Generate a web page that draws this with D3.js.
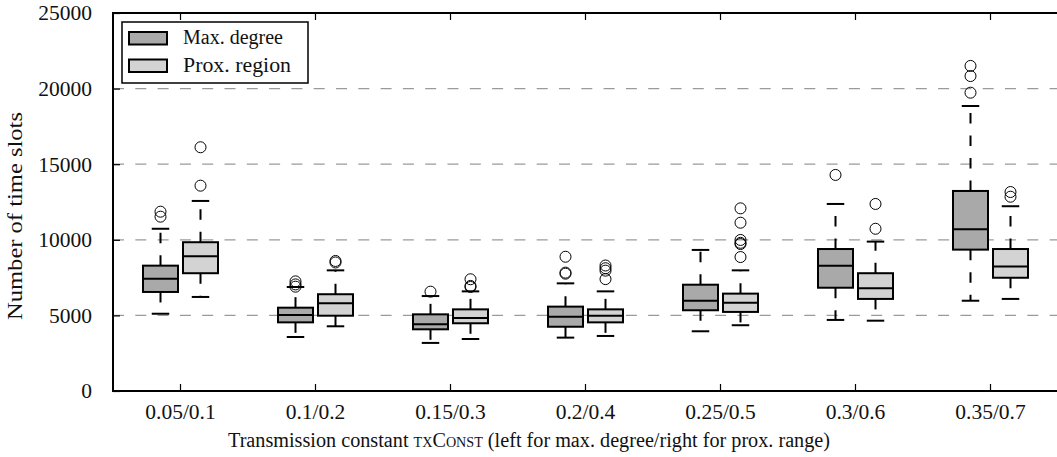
<!DOCTYPE html>
<html>
<head>
<meta charset="utf-8">
<script src="https://cdn.jsdelivr.net/npm/d3@7"></script>
<style>
  body { margin: 0; background: #fff; }
  text { font-family: "Liberation Serif", "DejaVu Serif", serif; fill: #111; }
</style>
</head>
<body>
<div id="chart"></div>
<script>
// category labels on the x axis
var categories = ["0.05/0.1", "0.1/0.2", "0.15/0.3", "0.2/0.4", "0.25/0.5", "0.3/0.6", "0.35/0.7"];
var yTicks = [0, 5000, 10000, 15000, 20000, 25000];
var gridValues = [5000, 10000, 15000, 20000];

// box stats per category: [whisker low, q1, median, q3, whisker high]
var maxDegreeStats = [
  [5110, 6550, 7430, 8290, 10730],
  [3570, 4540, 5030, 5510, 6880],
  [3180, 4080, 4410, 5070, 6280],
  [3530, 4250, 4910, 5580, 7120],
  [3950, 5340, 5970, 7030, 9330],
  [4700, 6830, 8290, 9390, 12370],
  [5970, 9350, 10700, 13230, 18850]
];
var maxDegreeOutliers = [
  [11860, 11530],
  [7250, 7050, 6900],
  [6570],
  [8880, 7830, 7760],
  [],
  [14290],
  [21500, 20830, 19730]
];
var proxRegionStats = [
  [6220, 7790, 8910, 9840, 12570],
  [4280, 4980, 5800, 6400, 7980],
  [3440, 4480, 4830, 5400, 6590],
  [3640, 4540, 4980, 5400, 6590],
  [4350, 5230, 5840, 6440, 7980],
  [4650, 6090, 6790, 7790, 9880],
  [6090, 7490, 8240, 9390, 12220]
];
var proxRegionOutliers = [
  [16120, 13580],
  [8600, 8500],
  [7390, 6950, 6880],
  [8300, 8120, 7960, 7400],
  [12080, 11130, 9990, 9800, 9720, 8860],
  [12370, 10730],
  [13160, 12850]
];

var W = 1057, H = 457;
var margin = {left: 113, right: 1058, top: 13, bottom: 391};
var boxW = 35, offset = 20;

var svg = d3.select("#chart").append("svg")
  .attr("width", W)
  .attr("height", H);

var x = d3.scaleBand().domain(categories).range([margin.left, margin.right]).padding(0);
var y = d3.scaleLinear().domain([0, 25000]).range([margin.bottom, margin.top]);
function cx(c) { return x(c) + x.bandwidth() / 2; }

// grid lines
svg.append("g").selectAll("line").data(gridValues).enter().append("line")
  .attr("x1", margin.left).attr("x2", margin.right)
  .attr("y1", function(d) { return y(d); })
  .attr("y2", function(d) { return y(d); })
  .attr("stroke", "#9a9a9a")
  .attr("stroke-width", 1.3)
  .attr("stroke-dasharray", "11,11.3");

function drawBoxes(stats, outliers, shift, fill) {
  var g = svg.append("g");
  stats.forEach(function(s, i) {
    var c = cx(categories[i]) + shift;
    // whiskers, dashed from the box outward
    [[s[1], s[0]], [s[3], s[4]]].forEach(function(w) {
      g.append("line")
        .attr("x1", c).attr("x2", c)
        .attr("y1", y(w[0])).attr("y2", y(w[1]))
        .attr("stroke", "#000").attr("stroke-width", 2)
        .attr("stroke-dasharray", "10.5,12");
      g.append("line")
        .attr("x1", c - boxW / 4).attr("x2", c + boxW / 4)
        .attr("y1", y(w[1])).attr("y2", y(w[1]))
        .attr("stroke", "#000").attr("stroke-width", 2);
    });
    g.append("rect")
      .attr("x", c - boxW / 2).attr("width", boxW)
      .attr("y", y(s[3])).attr("height", y(s[1]) - y(s[3]))
      .attr("fill", fill).attr("stroke", "#000").attr("stroke-width", 2);
    g.append("line")
      .attr("x1", c - boxW / 2).attr("x2", c + boxW / 2)
      .attr("y1", y(s[2])).attr("y2", y(s[2]))
      .attr("stroke", "#000").attr("stroke-width", 2);
    g.selectAll(null).data(outliers[i]).enter().append("circle")
      .attr("cx", c).attr("cy", function(d) { return y(d); })
      .attr("r", 5.5)
      .attr("fill", "none").attr("stroke", "#000").attr("stroke-width", 1);
  });
}
drawBoxes(maxDegreeStats, maxDegreeOutliers, -offset, "#a9a9a9");
drawBoxes(proxRegionStats, proxRegionOutliers, offset, "#d3d3d3");

// axes with inward ticks
var yAxis = svg.append("g")
  .attr("transform", "translate(" + margin.left + ",0)")
  .call(d3.axisLeft(y).tickValues(yTicks).tickSize(-7).tickPadding(21).tickFormat(d3.format("d")));
var xAxis = svg.append("g")
  .attr("transform", "translate(0," + margin.bottom + ")")
  .call(d3.axisBottom(x).tickSize(-7).tickPadding(13));
var topAxis = svg.append("g")
  .attr("transform", "translate(0," + margin.top + ")")
  .call(d3.axisTop(x).tickSize(-7).tickFormat(""));
[yAxis, xAxis, topAxis].forEach(function(a) {
  a.select(".domain").remove();
  a.selectAll(".tick line").attr("stroke", "#000").attr("stroke-width", 1.2);
  a.selectAll("text").style("font-family", "Liberation Serif").style("font-size", "21.5px").attr("fill", "#111");
});

// frame
svg.append("rect")
  .attr("x", margin.left).attr("y", margin.top)
  .attr("width", margin.right - margin.left).attr("height", margin.bottom - margin.top)
  .attr("fill", "none").attr("stroke", "#000").attr("stroke-width", 2);

// axis labels
svg.append("text")
  .attr("x", 529).attr("y", 447)
  .attr("text-anchor", "middle")
  .attr("textLength", 602)
  .attr("lengthAdjust", "spacingAndGlyphs")
  .style("font-size", "20px")
  .html('Transmission constant <tspan style="font-variant: small-caps">txConst</tspan> (left for max. degree/right for prox. range)');
svg.append("text")
  .attr("transform", "translate(22,216) rotate(-90)")
  .attr("text-anchor", "middle")
  .attr("textLength", 208)
  .attr("lengthAdjust", "spacingAndGlyphs")
  .style("font-size", "20px")
  .text("Number of time slots");

// legend
var legend = svg.append("g");
legend.append("rect")
  .attr("x", 122).attr("y", 22).attr("width", 186).attr("height", 61)
  .attr("fill", "#fff").attr("stroke", "#000").attr("stroke-width", 1.5);
var legendItems = [["Max. degree", "#a9a9a9"], ["Prox. region", "#d3d3d3"]];
legendItems.forEach(function(d, i) {
  legend.append("rect")
    .attr("x", 129).attr("y", 32 + i * 27.5).attr("width", 38).attr("height", 12.5)
    .attr("fill", d[1]).attr("stroke", "#000").attr("stroke-width", 2);
  legend.append("text")
    .attr("x", 183).attr("y", 44 + i * 27.5)
    .attr("textLength", i === 0 ? 100 : 108)
    .attr("lengthAdjust", "spacingAndGlyphs")
    .style("font-size", "20px")
    .text(d[0]);
});
</script>
</body>
</html>
